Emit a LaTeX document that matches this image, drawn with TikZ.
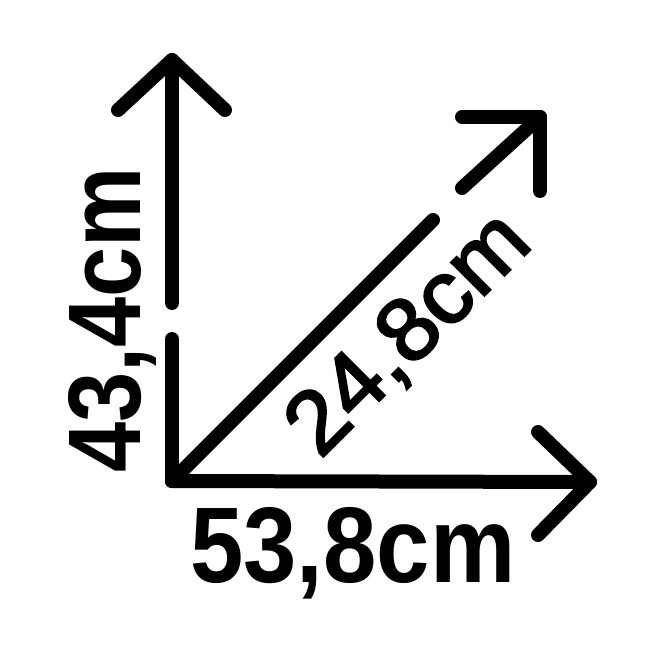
\documentclass[tikz,border=0pt]{standalone}
\usepackage{fontspec}
\usepackage{graphicx}
\setmainfont{Liberation Sans}
\newfontfamily\diagfont{Liberation Sans}[FakeBold=2.5]

\tikzset{
  dimline/.style={line width=14pt, line cap=round, line join=round},
  dimlabel/.style={inner sep=0pt, anchor=base west},
}
\newcommand{\dimtext}[3]{\resizebox{#1pt}{#2pt}{#3}}

\begin{document}
\begin{tikzpicture}[x=1pt,y=-1pt]
\useasboundingbox (0,0) rectangle (650,650);

\coordinate (o) at (172,481);

% height
\coordinate (htop) at (172,60);
\coordinate (hleft) at (118,110);
\coordinate (hright) at (225,110);
\coordinate (hcuta) at (172,339);
\coordinate (hcutb) at (172,303);

% depth
\coordinate (dtop) at (540,117);
\coordinate (dleft) at (462,117);
\coordinate (ddown) at (540,191);
\coordinate (dcuta) at (433,220);
\coordinate (dcutb) at (462,188);

% width
\coordinate (wtip) at (590,482);
\coordinate (wup) at (538,432);
\coordinate (wdown) at (538,535);

\draw[dimline] (o) -- (hcuta);
\draw[dimline] (hcutb) -- (htop);
\draw[dimline] (hleft) -- (htop) -- (hright);

\draw[dimline] (o) -- (dcuta);
\draw[dimline] (dcutb) -- (dtop);
\draw[dimline] (dleft) -- (dtop) -- (ddown);

\draw[dimline] (o) -- (wtip);
\draw[dimline] (wup) -- (wtip) -- (wdown);

\node[dimlabel, rotate=90] (hlabel) at (140,473) {\dimtext{306}{72}{\bfseries 43,4cm}};
\node[dimlabel, rotate=45] (dlabel) at (320,460) {\dimtext{303}{62}{\diagfont 24,8cm}};
\node[dimlabel] (wlabel) at (190,582) {\dimtext{325}{75}{\bfseries 53,8cm}};
\end{tikzpicture}
\end{document}
